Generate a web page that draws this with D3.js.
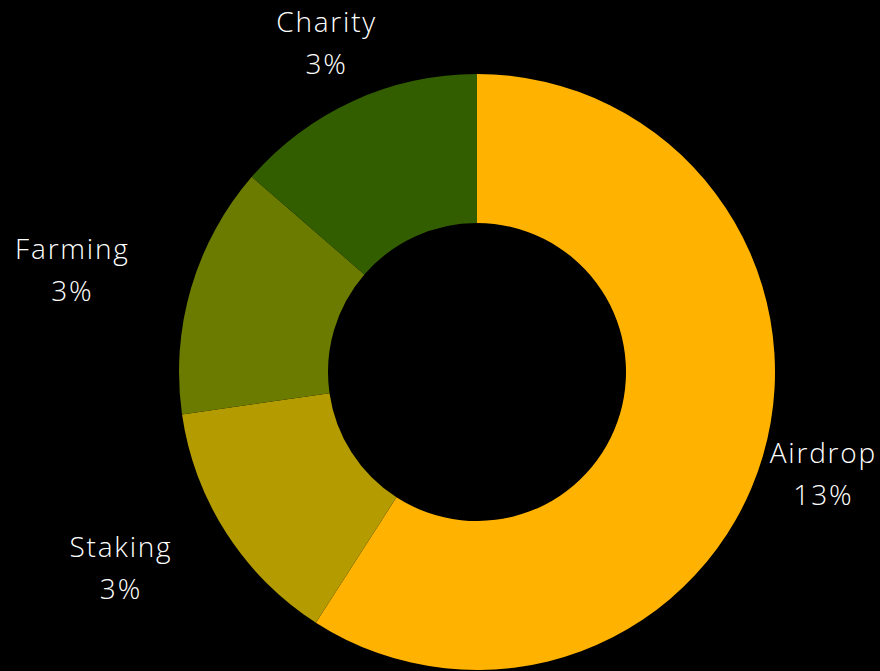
<!DOCTYPE html>
<html>
<head>
<meta charset="utf-8">
<script src="https://cdn.jsdelivr.net/npm/d3@7"></script>
<style>
  html, body { margin: 0; padding: 0; background: #000; }
  svg { display: block; }
  text { font-family: "Open Sans", "Lato", sans-serif; font-weight: 300; fill: #fff; letter-spacing: 1.8px; }
</style>
</head>
<body>
<script>
// data
const labels = ["Airdrop", "Staking", "Farming", "Charity"];
const values = [13, 3, 3, 3];
const pctLabels = ["13%", "3%", "3%", "3%"];
const colors = ["#FFB300", "#B39B00", "#6B7B00", "#335E00"];

const width = 880;
const height = 671;
const cx = 477, cy = 372;
const outerR = 298, innerR = 149;
const labelR = 362;
const fontSize = 28;
const lineGap = 42;

const svg = d3.select("body").append("svg")
  .attr("width", width)
  .attr("height", height);

svg.append("rect").attr("width", width).attr("height", height).attr("fill", "#000");

const data = labels.map((l, i) => ({ label: l, value: values[i], pct: pctLabels[i], color: colors[i] }));

const pie = d3.pie().value(d => d.value).sort(null);
const arc = d3.arc().innerRadius(innerR).outerRadius(outerR);

const g = svg.append("g").attr("transform", "translate(" + cx + "," + cy + ")");

const arcs = pie(data);

g.selectAll("path")
  .data(arcs)
  .enter()
  .append("path")
  .attr("d", arc)
  .attr("fill", d => d.data.color);

// labels
arcs.forEach(function(a) {
  const mid = (a.startAngle + a.endAngle) / 2;
  const s = Math.sin(mid);
  const x = cx + labelR * s;
  const y = cy - labelR * Math.cos(mid);

  const lab = svg.append("g");
  const t1 = lab.append("text").attr("font-size", fontSize).attr("text-anchor", "middle")
    .attr("y", -lineGap / 2 + fontSize * 0.36).text(a.data.label);
  const t2 = lab.append("text").attr("font-size", fontSize).attr("text-anchor", "middle")
    .attr("y", lineGap / 2 + fontSize * 0.36).text(a.data.pct);
  const w = Math.max(t1.node().getComputedTextLength(), t2.node().getComputedTextLength());

  // block centre
  let bx = x;
  if (s < -0.5) bx = x - w / 2;
  else if (s > 0.5) bx = x + w / 2;
  bx = Math.min(bx, width - 3 - w / 2);
  bx = Math.max(bx, 3 + w / 2);
  lab.attr("transform", "translate(" + bx + "," + y + ")");
});
</script>
</body>
</html>
